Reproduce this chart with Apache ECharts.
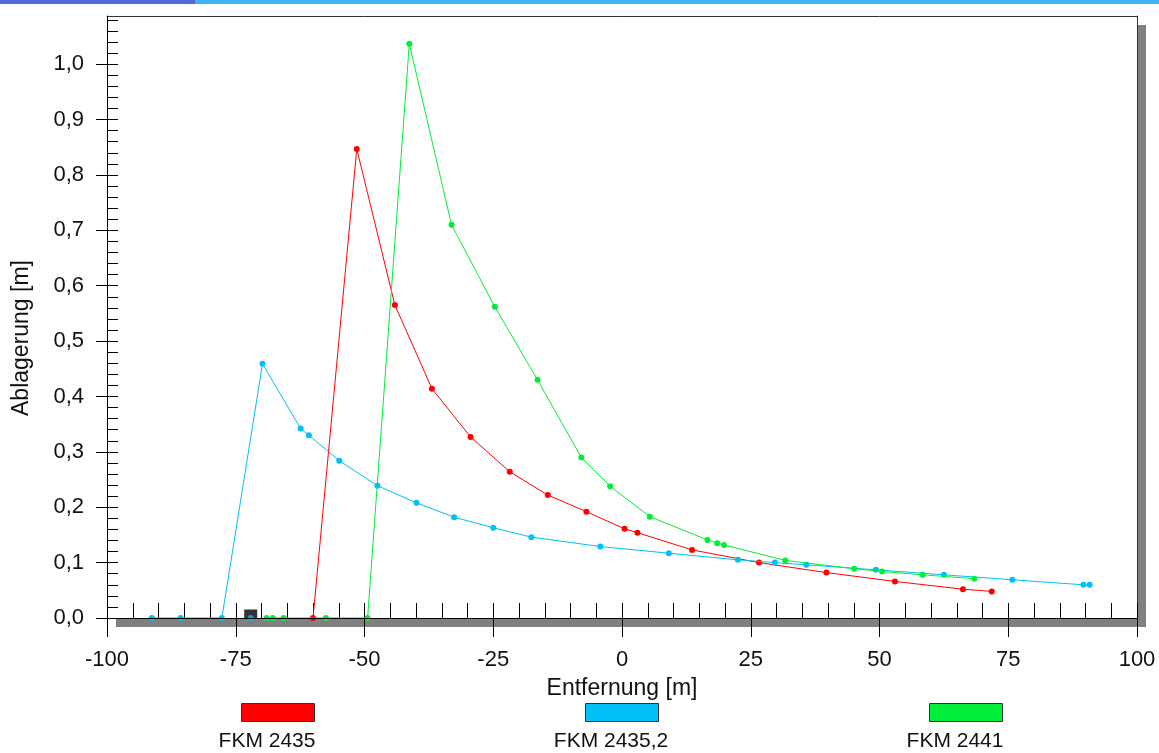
<!DOCTYPE html>
<html><head><meta charset="utf-8">
<script src="https://cdn.jsdelivr.net/npm/echarts@6/dist/echarts.min.js"></script>
<style>html,body{margin:0;padding:0;background:#fff}#c{width:1159px;height:753px}</style>
</head><body><div id="c"></div>
<script>
// ---- data ----
const seriesNames = ['FKM 2435', 'FKM 2435,2', 'FKM 2441'];
const seriesColors = ['#ff0000', '#00c0f5', '#00ee3a'];

const redX = [-60.0, -51.5, -44.1, -36.9, -29.4, -21.8, -14.4, -6.9, 0.5, 3.0, 13.6, 26.6, 39.7, 53.0, 66.2, 71.8];
const redY = [0.0, 0.847, 0.565, 0.414, 0.327, 0.264, 0.222, 0.192, 0.161, 0.154, 0.123, 0.100, 0.082, 0.066, 0.052, 0.048];

const blueX = [-91.3, -85.7, -77.7, -69.8, -62.4, -60.8, -54.9, -47.5, -39.9, -32.6, -25.0, -17.6, -4.2, 9.1, 22.5, 29.7, 35.8, 49.3, 62.5, 75.8, 89.6, 90.8];
const blueY = [0.0, 0.0, 0.0, 0.459, 0.342, 0.330, 0.284, 0.239, 0.208, 0.182, 0.163, 0.146, 0.129, 0.117, 0.105, 0.100, 0.096, 0.087, 0.078, 0.069, 0.060, 0.060];

const greenX = [-69.0, -67.8, -65.7, -57.5, -49.4, -41.3, -33.1, -24.7, -16.4, -7.9, -2.3, 5.4, 16.6, 18.5, 19.8, 31.7, 45.1, 50.5, 58.4, 68.4];
const greenY = [0.0, 0.0, 0.0, 0.0, 0.0, 1.037, 0.710, 0.562, 0.430, 0.290, 0.238, 0.183, 0.141, 0.135, 0.132, 0.104, 0.089, 0.084, 0.078, 0.071];

const cursorX = [-72.1];
const cursorY = [0.0];

const xMajorTicks = [-100, -75, -50, -25, 0, 25, 50, 75, 100];
const xMinorTicks = [-100, -95, -90, -85, -80, -75, -70, -65, -60, -55, -50, -45, -40, -35, -30, -25, -20, -15, -10, -5, 0,
  5, 10, 15, 20, 25, 30, 35, 40, 45, 50, 55, 60, 65, 70, 75, 80, 85, 90, 95, 100];
const yMajorTicks = [0, 0.1, 0.2, 0.3, 0.4, 0.5, 0.6, 0.7, 0.8, 0.9, 1.0];
const yMinorTicks = [0, 0.02, 0.04, 0.06, 0.08, 0.1, 0.12, 0.14, 0.16, 0.18, 0.2, 0.22, 0.24, 0.26, 0.28, 0.3, 0.32, 0.34, 0.36, 0.38,
  0.4, 0.42, 0.44, 0.46, 0.48, 0.5, 0.52, 0.54, 0.56, 0.58, 0.6, 0.62, 0.64, 0.66, 0.68, 0.7, 0.72, 0.74, 0.76, 0.78,
  0.8, 0.82, 0.84, 0.86, 0.88, 0.9, 0.92, 0.94, 0.96, 0.98, 1.0, 1.02, 1.04, 1.06, 1.08];

const xName = 'Entfernung [m]';
const yName = 'Ablagerung [m]';
const xMin = -100, xMax = 100, yMin = 0, yMax = 1.087;

// ---- chart ----
const FONT = 'Liberation Sans, Arial, sans-serif';
const TXT = '#111';
const pairs = (xs, ys) => xs.map((x, i) => [x, ys[i]]);

const chart = echarts.init(document.getElementById('c'), null, {renderer: 'canvas'});

const lineSeries = [[redX, redY], [blueX, blueY], [greenX, greenY]].map((d, i) => ({
  name: seriesNames[i],
  type: 'line',
  data: pairs(d[0], d[1]),
  symbol: 'circle',
  symbolSize: 6,
  showSymbol: true,
  color: seriesColors[i],
  lineStyle: {width: 1, color: seriesColors[i]},
  itemStyle: {color: seriesColors[i]},
  animation: false,
  z: 3 + i
}));

const legendX = [241, 585, 929];
const legendGraphics = [];
seriesNames.forEach((n, i) => {
  legendGraphics.push({type: 'rect', shape: {x: legendX[i] + 0.5, y: 703.5, width: 73, height: 18},
    style: {fill: seriesColors[i], stroke: '#333', lineWidth: 1}});
  legendGraphics.push({type: 'text', x: legendX[i] + 26, y: 741,
    style: {text: n, font: '21px ' + FONT, fill: TXT, align: 'center', verticalAlign: 'middle'}});
});

const option = {
  backgroundColor: '#fff',
  animation: false,
  grid: {
    left: 107, top: 16, right: 22, bottom: 135,
    show: true, backgroundColor: '#fff', borderWidth: 0, borderColor: 'transparent',
    shadowColor: '#808080', shadowOffsetX: 9, shadowOffsetY: 9, shadowBlur: 0
  },
  xAxis: [{
    type: 'value', min: xMin, max: xMax, interval: 25, position: 'bottom', z: 10,
    axisLine: {show: true, onZero: false, lineStyle: {color: '#000', width: 1}},
    axisTick: {show: true, inside: false, length: 19, lineStyle: {color: '#000'}, customValues: xMajorTicks},
    axisLabel: {margin: 31, fontSize: 22, fontFamily: FONT, color: TXT, customValues: xMajorTicks},
    splitLine: {show: false},
    name: xName, nameLocation: 'middle', nameGap: 59,
    nameTextStyle: {fontSize: 23, fontFamily: FONT, color: TXT}
  }, {
    type: 'value', min: xMin, max: xMax, interval: 5, position: 'bottom',
    axisLine: {show: false, onZero: false},
    axisTick: {show: true, inside: true, length: 15, lineStyle: {color: '#000'}, customValues: xMinorTicks},
    axisLabel: {show: false},
    splitLine: {show: false}
  }, {
    type: 'value', min: xMin, max: xMax, interval: 25, position: 'top',
    axisLine: {show: true, onZero: false, lineStyle: {color: '#333', width: 1}},
    axisTick: {show: false}, axisLabel: {show: false}, splitLine: {show: false}
  }],
  yAxis: [{
    type: 'value', min: yMin, max: yMax, interval: 0.1, position: 'left', z: 10,
    axisLine: {show: true, onZero: false, lineStyle: {color: '#000', width: 1}},
    axisTick: {show: true, inside: false, length: 11, lineStyle: {color: '#000'}, customValues: yMajorTicks},
    axisLabel: {margin: 23, fontSize: 22, fontFamily: FONT, color: TXT, customValues: yMajorTicks,
      formatter: v => v.toFixed(1).replace('.', ',')},
    splitLine: {show: false}
  }, {
    type: 'value', min: yMin, max: yMax, interval: 0.02, position: 'left', offset: 0,
    axisLine: {show: false, onZero: false},
    axisTick: {show: true, inside: true, length: 11, lineStyle: {color: '#000'}, customValues: yMinorTicks},
    axisLabel: {show: false},
    splitLine: {show: false}
  }, {
    type: 'value', min: yMin, max: yMax, interval: 0.1, position: 'right', offset: 0,
    axisLine: {show: true, onZero: false, lineStyle: {color: '#333', width: 1}},
    axisTick: {show: false}, axisLabel: {show: false}, splitLine: {show: false}
  }],
  series: lineSeries.concat([{
    name: 'cursor',
    type: 'scatter',
    data: pairs(cursorX, cursorY),
    symbol: 'rect',
    symbolSize: [13, 9],
    symbolOffset: [0, -4],
    itemStyle: {color: '#000'},
    z: 7
  }, {
    name: 'cursorPoint',
    type: 'scatter',
    data: pairs(cursorX, cursorY),
    symbol: 'circle',
    symbolSize: 6,
    itemStyle: {color: seriesColors[1]},
    z: 8
  }]),
  graphic: [
    {type: 'rect', shape: {x: 0, y: 0, width: 195, height: 4}, style: {fill: '#4f6bd9'}},
    {type: 'rect', shape: {x: 195, y: 0, width: 964, height: 4}, style: {fill: '#3fb3f8'}},
    {type: 'text', x: 22, y: 338, rotation: Math.PI / 2,
      style: {text: yName, font: '23px ' + FONT, fill: TXT, align: 'center', verticalAlign: 'middle'}}
  ].concat(legendGraphics)
};
chart.setOption(option);
</script>
</body></html>
